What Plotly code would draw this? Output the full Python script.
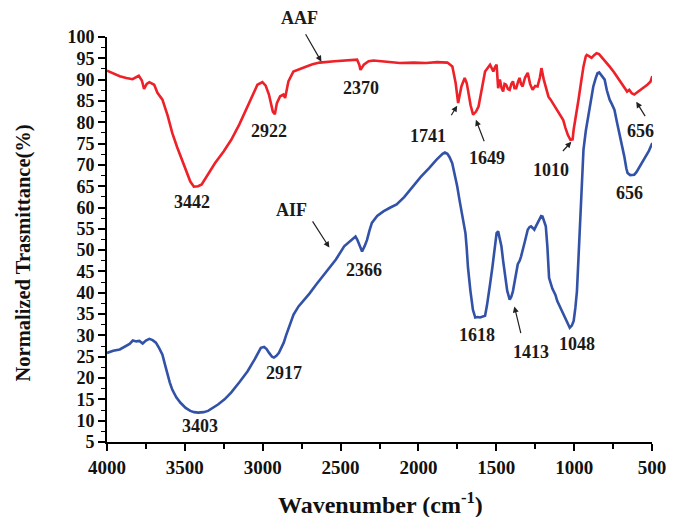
import plotly.graph_objects as go

# ---- data ----
aaf_wn = [4000, 3960, 3918, 3876, 3836, 3796, 3776, 3762, 3745, 3728, 3697, 3676, 3644, 3610, 3581,
          3550, 3518, 3490, 3465, 3442, 3415, 3392, 3350, 3307, 3250, 3202, 3150, 3097, 3060, 3034,
          3002, 2981, 2960, 2949, 2935, 2922, 2909, 2888, 2867, 2856, 2845, 2835, 2803, 2760, 2719,
          2680, 2634, 2539, 2450, 2415, 2394, 2380, 2372, 2351, 2320, 2288, 2200, 2120, 2030, 1951,
          1880, 1814, 1782, 1770, 1761, 1745, 1735, 1724, 1703, 1690, 1682, 1665, 1649, 1630, 1614,
          1595, 1572, 1540, 1530, 1519, 1508, 1498, 1488, 1477, 1466, 1456, 1447, 1437, 1425, 1414,
          1403, 1393, 1383, 1372, 1360, 1351, 1341, 1331, 1315, 1298, 1283, 1267, 1250, 1235, 1220,
          1210, 1195, 1182, 1165, 1151, 1130, 1109, 1088, 1070, 1056, 1040, 1024, 1010, 1003, 990,
          972, 955, 940, 925, 919, 905, 888, 870, 856, 840, 825, 800, 773, 745, 720,
          700, 678, 660, 646, 630, 614, 595, 571, 550, 530, 510, 498]
aaf_t = [92.1, 91.5, 90.8, 90.4, 90.1, 90.9, 89.8, 87.8, 89.0, 89.4, 88.8, 86.9, 85.3, 81.5, 77.5,
         74.2, 71.2, 68.5, 66.1, 64.9, 65.0, 65.4, 67.8, 70.4, 73.2, 75.9, 79.5, 83.7, 87.0, 88.8,
         89.4, 88.6, 86.5, 84.5, 82.5, 81.9, 84.5, 86.1, 86.5, 85.7, 87.8, 89.6, 91.9, 92.6, 93.1,
         93.6, 94.0, 94.3, 94.5, 94.7, 94.7, 93.5, 92.3, 93.5, 94.3, 94.5, 94.1, 93.9, 94.0, 93.9,
         94.1, 94.0, 93.1, 91.0, 89.2, 84.5, 86.0, 88.4, 90.4, 89.2, 87.6, 84.0, 81.8, 82.5, 83.7,
         87.5, 91.9, 93.5, 92.5, 91.9, 93.0, 93.5, 88.0, 90.0, 88.0, 87.2, 89.0, 88.8, 87.8, 87.6,
         89.0, 89.6, 88.0, 88.0, 89.5, 90.4, 89.0, 88.4, 90.5, 91.6, 89.0, 87.6, 88.5, 88.4, 90.5,
         92.7, 90.0, 88.4, 86.0, 85.3, 84.0, 82.9, 81.4, 80.5, 78.7, 77.0, 75.9, 76.0, 78.3, 81.0,
         85.3, 89.5, 93.1, 95.5, 95.8, 95.5, 95.1, 95.8, 96.2, 96.0, 95.4, 94.2, 93.1, 91.8, 90.4,
         89.2, 88.0, 87.2, 87.6, 86.8, 86.5, 87.0, 87.6, 88.2, 88.8, 89.5, 90.8]

aif_wn = [4000, 3960, 3918, 3876, 3855, 3834, 3812, 3792, 3771, 3750, 3728, 3707, 3686, 3665, 3644,
          3628, 3613, 3597, 3581, 3555, 3528, 3495, 3465, 3440, 3414, 3380, 3351, 3320, 3287, 3245,
          3203, 3150, 3097, 3050, 3012, 2991, 2975, 2959, 2940, 2928, 2912, 2896, 2880, 2865, 2850,
          2833, 2818, 2802, 2770, 2739, 2700, 2655, 2610, 2570, 2530, 2477, 2440, 2404, 2393, 2383,
          2372, 2362, 2345, 2330, 2315, 2299, 2265, 2225, 2180, 2140, 2090, 2037, 1985, 1930, 1885,
          1845, 1830, 1814, 1800, 1783, 1767, 1751, 1735, 1719, 1708, 1698, 1690, 1682, 1666, 1650,
          1635, 1620, 1604, 1590, 1572, 1560, 1548, 1540, 1525, 1509, 1498, 1488, 1478, 1467, 1456,
          1446, 1430, 1414, 1404, 1393, 1378, 1362, 1350, 1341, 1320, 1298, 1287, 1277, 1266, 1256,
          1240, 1225, 1212, 1203, 1192, 1182, 1172, 1161, 1140, 1120, 1109, 1085, 1056, 1040, 1028,
          1015, 1003, 992, 982, 972, 955, 940, 925, 909, 893, 877, 860, 850, 839, 825,
          804, 790, 772, 757, 741, 725, 709, 693, 678, 665, 657, 640, 625, 614, 600,
          583, 562, 540, 520, 498]
aif_t = [25.9, 26.4, 26.7, 27.5, 28.0, 28.8, 28.6, 28.7, 28.1, 28.8, 29.2, 28.9, 28.3, 27.0, 25.5,
         23.2, 20.9, 19.0, 17.3, 15.5, 14.2, 13.0, 12.3, 12.0, 11.9, 12.0, 12.3, 13.0, 13.8, 15.0,
         16.6, 19.0, 21.6, 24.5, 27.1, 27.3, 26.8, 25.9, 25.0, 24.8, 25.2, 25.9, 27.0, 28.3, 30.0,
         31.8, 33.5, 34.9, 36.8, 38.1, 39.8, 42.0, 44.0, 45.9, 47.8, 50.9, 52.0, 53.2, 52.5, 51.7,
         50.5, 49.7, 51.0, 52.4, 54.5, 56.4, 58.0, 59.1, 60.0, 60.7, 62.5, 65.0, 67.2, 69.3, 71.2,
         72.6, 72.9, 72.6, 71.8, 70.4, 68.0, 65.0, 61.5, 57.9, 56.0, 54.0, 50.5, 46.0, 40.4, 36.0,
         34.2, 34.3, 34.2, 34.3, 34.6, 37.0, 39.5, 42.0, 46.0, 50.5, 54.0, 54.4, 53.0, 50.9, 47.5,
         44.3, 40.5, 38.4, 39.0, 40.4, 43.5, 46.7, 47.5, 48.5, 51.5, 54.8, 55.4, 55.6, 55.2, 54.8,
         56.0, 57.1, 58.0, 57.9, 56.8, 55.6, 50.9, 43.5, 41.0, 39.5, 38.1, 36.2, 34.2, 33.0, 31.8,
         32.3, 33.4, 36.5, 40.4, 48.2, 63.0, 73.6, 78.0, 81.4, 85.5, 88.4, 90.5, 91.5, 91.7, 91.0,
         90.0, 87.5, 85.3, 84.2, 82.9, 80.0, 77.5, 74.5, 72.0, 69.2, 68.1, 67.6, 67.6, 67.7, 68.3,
         69.3, 70.6, 72.0, 73.3, 75.1]

# peak labels: (text, x, y)
peak_labels = [
    ("3442", 3457, 61.4), ("2922", 2958, 78.0), ("2370", 2370, 88.1),
    ("1741", 1940, 76.8), ("1649", 1561, 71.7), ("1010", 1151, 68.9), ("656", 576, 78.0),
    ("656", 645, 63.5), ("AIF", 2812, 59.5), ("2366", 2351, 45.4), ("1618", 1624, 30.0),
    ("1413", 1277, 26.2), ("1048", 980, 28.0), ("3403", 3400, 8.8), ("2917", 2863, 21.3),
]
# label above the plotting area (x in data, y in paper units)
top_label = ("AAF", 2762, 1.048)
# arrows: (tail x, tail y, head x, head y)
arrows = [
    (2730, 101.0, 2623, 94.2), (2686, 57.1, 2572, 50.6), (1795, 81.3, 1751, 83.9),
    (1574, 75.2, 1631, 80.6), (1081, 72.9, 1018, 75.4), (538, 81.1, 601, 84.8),
    (1340, 30.2, 1384, 36.8),
]

x_ticks = [4000, 3500, 3000, 2500, 2000, 1500, 1000, 500]
y_ticks = list(range(5, 101, 5))

FONT = "Liberation Serif"
LABEL_FONT = dict(family=FONT, size=18, color="#1a1a1a")

fig = go.Figure()
fig.add_trace(go.Scatter(x=aaf_wn, y=aaf_t, mode="lines", name="AAF",
                         line=dict(color="#ee2028", width=2.6)))
fig.add_trace(go.Scatter(x=aif_wn, y=aif_t, mode="lines", name="AIF",
                         line=dict(color="#3252a8", width=2.6)))

annotations = []
for txt, x, y in peak_labels:
    annotations.append(dict(x=x, y=y, xref="x", yref="y", text="<b>%s</b>" % txt,
                            showarrow=False, font=LABEL_FONT))
annotations.append(dict(x=top_label[1], y=top_label[2], xref="x", yref="paper",
                        text="<b>%s</b>" % top_label[0], showarrow=False,
                        xanchor="center", yanchor="middle", font=LABEL_FONT))
for tx, ty, hx, hy in arrows:
    annotations.append(dict(x=hx, y=hy, ax=tx, ay=ty, xref="x", yref="y", axref="x", ayref="y",
                            text="", showarrow=True, arrowhead=2, arrowsize=1, arrowwidth=1.2,
                            arrowcolor="#222222", standoff=0, startstandoff=0))
annotations.append(dict(x=0.502, y=-0.151, xref="paper", yref="paper",
                        xanchor="center", yanchor="middle",
                        text="<b>Wavenumber (cm<sup>-1</sup>)</b>", showarrow=False,
                        font=dict(family=FONT, size=24, color="#111111")))
annotations.append(dict(x=-0.153, y=0.467, xref="paper", yref="paper", textangle=-90,
                        xanchor="center", yanchor="middle",
                        text="<b>Normalized Trasmittance(%)</b>", showarrow=False,
                        font=dict(family=FONT, size=20.5, color="#111111")))

fig.update_layout(
    width=670, height=509,
    margin=dict(l=99, r=17, t=29, b=75),
    paper_bgcolor="white", plot_bgcolor="white",
    showlegend=False,
    annotations=annotations,
    xaxis=dict(range=[4000, 500], tickmode="array", tickvals=x_ticks,
               ticktext=[str(v) for v in x_ticks],
               ticks="outside", ticklen=7, tickwidth=2, tickcolor="black",
               showline=True, linewidth=2, linecolor="black", showgrid=False, zeroline=False,
               tickfont=dict(family=FONT, size=19, color="#111111", weight="bold"),
               minor=dict(ticks="outside", dtick=250, tick0=500, ticklen=5, tickwidth=1.5,
                          tickcolor="black", showgrid=False)),
    yaxis=dict(range=[5, 100], tickmode="array", tickvals=y_ticks,
               ticktext=[str(v) for v in y_ticks],
               ticks="outside", ticklen=7, tickwidth=1.5, tickcolor="black",
               showline=True, linewidth=2, linecolor="black", showgrid=False, zeroline=False,
               tickfont=dict(family=FONT, size=18, color="#111111", weight="bold"),
               minor=dict(ticks="outside", dtick=2.5, tick0=5, ticklen=4, tickwidth=1,
                          tickcolor="black", showgrid=False)),
)

fig.write_html("out.html")
